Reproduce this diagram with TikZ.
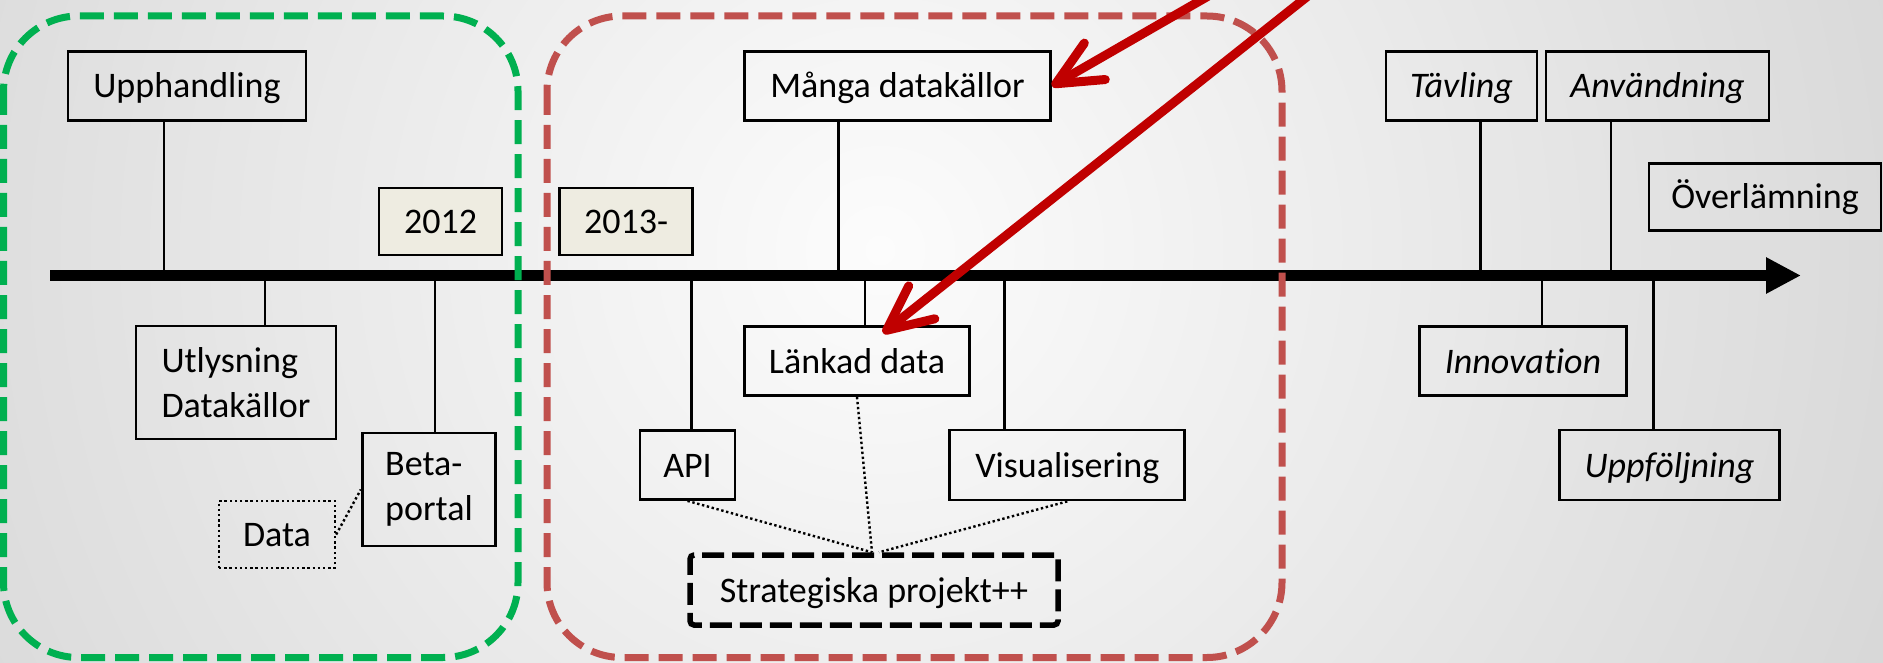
\documentclass[tikz,border=0pt]{standalone}
\usepackage{fontspec}
\setmainfont{Carlito}[Ligatures=NoCommon]
\usetikzlibrary{arrows.meta}
\definecolor{frgreen}{HTML}{00B050}
\definecolor{frred}{HTML}{C0504D}
\definecolor{arred}{HTML}{C00000}
\definecolor{yearfill}{HTML}{EEECE1}
\definecolor{bgA}{RGB}{252,252,252}
\definecolor{bgC}{RGB}{190,190,190}
\definecolor{bgD}{RGB}{178,178,178}
\pgfdeclareradialshading{bgshade}{\pgfpoint{0bp}{0bp}}{color(0bp)=(bgA); color(42bp)=(bgC); color(50bp)=(bgD)}
\begin{document}
\begin{tikzpicture}[x=1pt,y=-1pt,
  every node/.style={font=\fontsize{36}{44.5}\selectfont},
  boxbase/.style={draw, line width=2.8pt, inner sep=0pt, minimum height=69pt},
  box/.style={boxbase, text height=24pt, text depth=0pt},
  ibox/.style={box, font=\fontsize{36}{44.5}\selectfont\itshape},
  year/.style={box, fill=yearfill, minimum height=67pt},
  stem/.style={line width=2.6pt},
  frame/.style={line width=7pt, rounded corners=75pt, dash pattern=on 24pt off 10pt},
  dots/.style={line width=2.4pt, dash pattern=on 2.4pt off 2.6pt},
  callout/.style={arred, line width=9pt, line cap=round, -{Straight Barb[length=45pt,width=42pt,round]}}
]
\useasboundingbox (0,0) rectangle (1883,663);
\clip (0,0) rectangle (1883,663);
\fill[bgD] (0,0) rectangle (1883,663);
\shade[shading=bgshade] (880,250) circle (1100);

% timeline coordinates
\coordinate (tl0) at (50,275.5);
\coordinate (tl1) at (1801,275.5);
\coordinate (t1) at (164,275.5);
\coordinate (t2) at (265,275.5);
\coordinate (t3) at (435,275.5);
\coordinate (t4) at (691.7,275.5);
\coordinate (t5) at (838.6,275.5);
\coordinate (t6) at (864.8,275.5);
\coordinate (t7) at (1004.4,275.5);
\coordinate (t8) at (1480.7,275.5);
\coordinate (t9) at (1542,275.5);
\coordinate (t10) at (1611,275.5);
\coordinate (t11) at (1653.5,275.5);

% boxes
\node[box, minimum width=238pt] (upph) at (187,86) {Upphandling};
\node[year, minimum width=123pt] (y2012) at (440.5,221.5) {2012};
\node[boxbase, align=left, minimum width=200pt, minimum height=113pt] (utlys) at (236,382.5) {Utlysning\\Datakällor};
\node[boxbase, align=left, minimum width=133.5pt, minimum height=113pt] (beta) at (429,489.5) {Beta-\\portal};
\node[draw, line width=2.4pt, dash pattern=on 2.4pt off 2.8pt, inner sep=0pt, minimum width=116pt, minimum height=67pt, text height=24pt, text depth=0pt] (data) at (277,534.5) {Data};

\node[year, minimum width=133pt] (y2013) at (626,221.5) {2013-};
\node[box, minimum width=306pt] (manga) at (897.5,86) {Många datakällor};
\node[box, minimum width=225pt] (lankad) at (857,361) {Länkad data};
\node[box, minimum width=95pt] (api) at (687.5,465) {API};
\node[box, minimum width=235pt, minimum height=70pt] (visual) at (1067.3,465) {Visualisering};
\node[box, line width=5.5pt, dash pattern=on 22pt off 8pt, rounded corners=4pt, minimum width=368pt, minimum height=70pt] (strat) at (874,590) {Strategiska projekt++};

\node[ibox, minimum width=151pt] (tavling) at (1461.5,86) {Tävling};
\node[ibox, minimum width=223pt] (anv) at (1657.5,86) {Användning};
\node[box, minimum width=232pt, minimum height=67pt] (overl) at (1765,197) {Överlämning};
\node[ibox, minimum width=207pt] (innov) at (1523,361) {Innovation};
\node[ibox, minimum width=220pt, minimum height=70pt] (uppf) at (1669.5,465) {Uppföljning};

% stems
\draw[stem] (upph.south -| t1) -- (t1);
\draw[stem] (t2) -- (utlys.north -| t2);
\draw[stem] (t3) -- (beta.north -| t3);
\draw[stem] (t4) -- (api.north -| t4);
\draw[stem] (manga.south -| t5) -- (t5);
\draw[stem] (t6) -- (lankad.north -| t6);
\draw[stem] (t7) -- (visual.north -| t7);
\draw[stem] (tavling.south -| t8) -- (t8);
\draw[stem] (t9) -- (innov.north -| t9);
\draw[stem] (anv.south -| t10) -- (t10);
\draw[stem] (t11) -- (uppf.north -| t11);

% timeline
\draw[line width=11pt, -{Triangle[length=35pt,width=34pt]}] (tl0) -- (tl1);

% frames
\draw[frame, frgreen] (3.5,16) rectangle (518,657.5);
\draw[frame, frred] (547,16) rectangle (1282,657.5);

% dotted links
\draw[dots] (data.east) -- (beta.west);
\draw[dots] (api.south) -- ([xshift=-2pt]strat.north);
\draw[dots] (lankad.south) -- ([xshift=-2pt]strat.north);
\draw[dots] (visual.south) -- ([xshift=5pt]strat.north);

% red callouts
\coordinate (r1s) at (1215.3,-8);
\coordinate (r2s) at (1313,-8);
\draw[callout] (r1s) -- (manga.east);
\draw[callout] (r2s) -- ([xshift=26pt,yshift=-8pt]lankad.north);
\end{tikzpicture}
\end{document}
